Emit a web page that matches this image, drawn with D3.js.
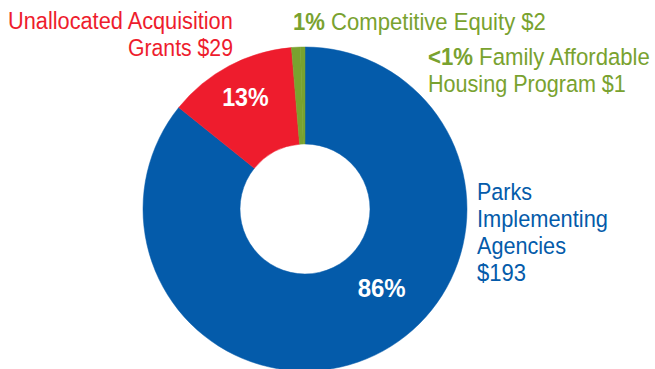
<!DOCTYPE html>
<html>
<head>
<meta charset="utf-8">
<script src="https://cdn.jsdelivr.net/npm/d3@7"></script>
<style>
  html, body { margin: 0; padding: 0; background: #fff; }
  svg { display: block; }
  text { font-family: "Liberation Sans Narrow", "Arial Narrow", "Liberation Sans", Arial, sans-serif; }
</style>
</head>
<body>
<svg id="chart" width="655" height="369"></svg>
<script>
// Funding allocation (millions of dollars)
const categories = [
  "Parks Implementing Agencies",
  "Unallocated Acquisition Grants",
  "Competitive Equity",
  "Family Affordable Housing Program"
];
const amounts = [193, 29, 2, 1];
const colors = ["#045BAA", "#EE1C2D", "#79A22F", "#79A22F"];

const W = 655, H = 369;
const cx = 305, cy = 209;
const rOuter = 162, rInner = 65;

const svg = d3.select("#chart");
const total = d3.sum(amounts);
const pct = v => {
  const p = v / total * 100;
  return p < 0.5 ? "<1%" : Math.round(p) + "%";
};

const pie = d3.pie().sort(null).value(d => d.value).startAngle(0).endAngle(2 * Math.PI);
const data = categories.map((c, i) => ({ name: c, value: amounts[i], color: colors[i] }));
const arcs = pie(data);

const arc = d3.arc().innerRadius(rInner).outerRadius(rOuter);

const g = svg.append("g").attr("transform", `translate(${cx},${cy})`);
g.selectAll("path.slice")
  .data(arcs)
  .join("path")
  .attr("class", "slice")
  .attr("d", arc)
  .attr("fill", d => d.data.color)
  .attr("stroke", d => d.data.color)
  .attr("stroke-width", 0.5);

// Draws a line of text condensed horizontally to a given width
function condensed(parent, x, y, anchor, w) {
  const holder = parent.append("g");
  const txt = holder.append("text").attr("x", 0).attr("y", 0);
  return {
    txt,
    fit() {
      const len = txt.node().getComputedTextLength();
      const sx = w / len;
      const x0 = anchor === "end" ? x - w : anchor === "middle" ? x - w / 2 : x;
      holder.attr("transform", `translate(${x0},${y}) scale(${sx},1)`);
    }
  };
}

// In-ring percentage labels for the two large slices
const inner = [
  { idx: 0, angle: 135.8, r: 110, w: 48 },
  { idx: 1, angle: 332, r: 127, w: 46.5 }
];
inner.forEach(l => {
  const a = l.angle * Math.PI / 180;
  const c = condensed(g, Math.sin(a) * l.r, -Math.cos(a) * l.r + 26.5 * 0.36, "middle", l.w);
  c.txt
    .attr("fill", "#fff")
    .attr("font-weight", "bold")
    .attr("font-size", 26.5)
    .text(pct(amounts[l.idx]));
  c.fit();
});

// Outside callout labels
function label(lines, x, y, anchor, color, lineH) {
  const t = svg.append("g");
  lines.forEach((ln, i) => {
    const c = condensed(t, x, y + i * lineH, anchor, ln.w);
    c.txt.attr("fill", color).attr("font-size", 23.5);
    ln.parts.forEach(p => {
      c.txt.append("tspan").attr("font-weight", p.bold ? "bold" : "normal").text(p.s);
    });
    c.fit();
  });
}

label([
  { parts: [{ s: "Unallocated Acquisition" }], w: 225 },
  { parts: [{ s: "Grants $" + amounts[1] }], w: 105 }
], 233, 28.5, "end", colors[1], 27);

label([
  { parts: [{ s: pct(amounts[2]), bold: true }, { s: " Competitive Equity $" + amounts[2] }], w: 253 }
], 293, 30, "start", colors[2], 27);

label([
  { parts: [{ s: pct(amounts[3]), bold: true }, { s: " Family Affordable" }], w: 222 },
  { parts: [{ s: "Housing Program $" + amounts[3] }], w: 198 }
], 428, 64.5, "start", colors[3], 27.5);

label([
  { parts: [{ s: "Parks" }], w: 55 },
  { parts: [{ s: "Implementing" }], w: 131 },
  { parts: [{ s: "Agencies" }], w: 89 },
  { parts: [{ s: "$" + amounts[0] }], w: 49 }
], 477, 199.5, "start", colors[0], 27);
</script>
</body>
</html>
